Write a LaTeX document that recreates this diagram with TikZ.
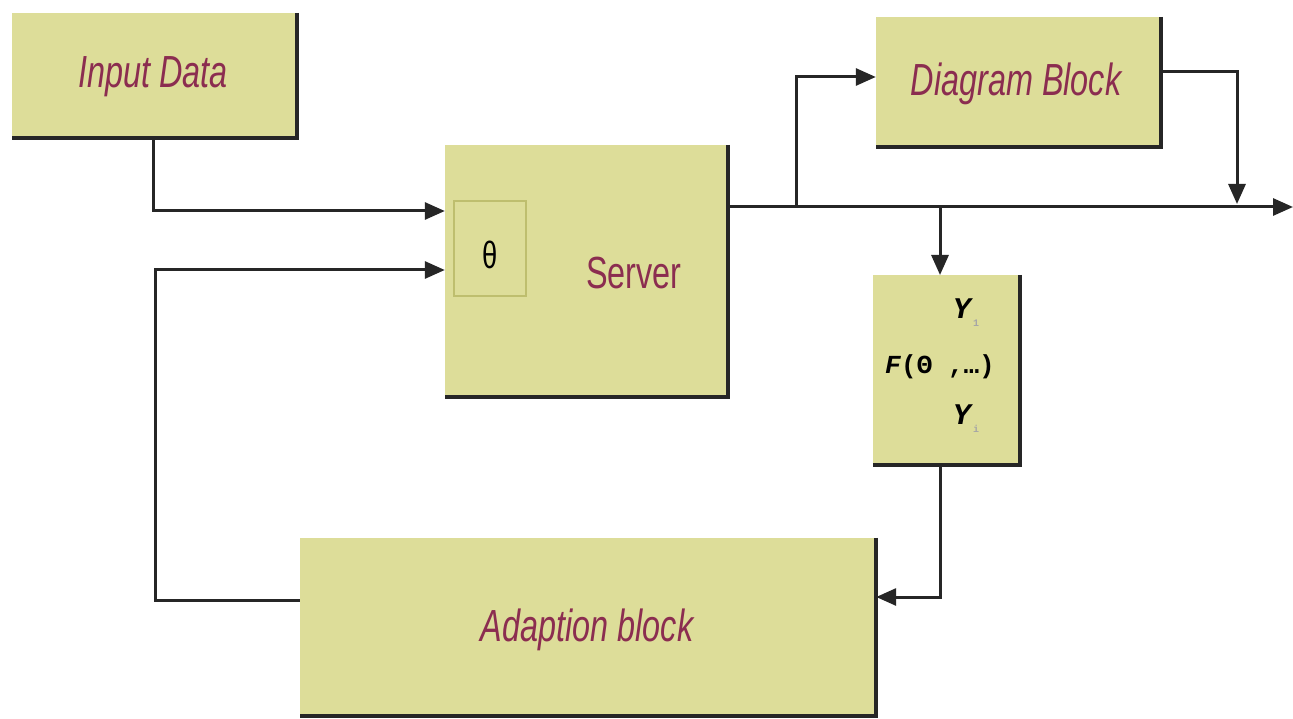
\documentclass[tikz,border=0pt]{standalone}
\usepackage{fontspec}
\setmainfont{Liberation Sans}
\newfontfamily\labfont[FakeStretch=0.72]{Liberation Sans}
\newfontfamily\monofont{Liberation Mono}
\usetikzlibrary{arrows.meta}
\definecolor{boxfill}{RGB}{221,221,153}
\definecolor{labcol}{RGB}{139,45,80}
\definecolor{thborder}{RGB}{190,190,110}
\tikzset{
  blk/.style={fill=boxfill, draw=none, inner sep=0pt, minimum width=#1},
  lab/.style={text=labcol, font=\labfont\itshape\fontsize{45}{48}\selectfont},
  shadowline/.style={line width=3.5pt, black!85},
  conn/.style={line width=3pt, black!85, line join=miter},
  tip/.style={-{Triangle[length=20pt,width=17pt]}}
}
\begin{document}
\begin{tikzpicture}[x=1pt,y=-1pt]
\useasboundingbox (0,0) rectangle (1293,719);
\fill[white] (0,0) rectangle (1293,719);
% blocks
\node[blk=285pt, minimum height=125pt] (in) at (154.5,75.5) {};
\node[blk=283pt, minimum height=252pt] (srv) at (586.5,271) {};
\node[blk=285pt, minimum height=130pt] (dg) at (1018.5,82) {};
\node[blk=147pt, minimum height=190pt] (F) at (946.5,370) {};
\node[blk=576pt, minimum height=178pt] (ad) at (588,627) {};
\node[blk=72pt, minimum height=95pt, draw=thborder, line width=1.5pt] (th) at (490,248.5) {};
% shadows
\foreach \b in {in,srv,dg,F,ad}{
  \draw[shadowline] (\b.north east) -- (\b.south east) -- (\b.south west);
}
% labels
\node[lab] (tin) at (153,77) {Input Data};
\node[lab] (tdg) at (1016,84) {Diagram Block};
\node[lab] (tad) at (587,630) {Adaption block};
\node[text=labcol, font=\labfont\fontsize{45}{48}\selectfont] (tsrv) at (634,273) {Server};
\node[font=\labfont\fontsize{38}{40}\selectfont] (tth) at (490,255) {θ};
\node[font=\monofont\bfseries\fontsize{26}{28}\selectfont] (tf) at (940,367) {\textit{F}(Θ ,…)};
\node[font=\monofont\bfseries\fontsize{30}{30}\selectfont] (ty1) at (966,313) {\textit{Y}\raisebox{-8pt}{\textcolor{black!35}{\fontsize{10}{10}\selectfont 1}}};
\node[font=\monofont\bfseries\fontsize{30}{30}\selectfont] (ty2) at (966,419) {\textit{Y}\raisebox{-8pt}{\textcolor{black!35}{\fontsize{10}{10}\selectfont i}}};
% coordinates
\coordinate (o) at ([yshift=64pt]srv.east);
\coordinate (oend) at (1293,207);
\coordinate (b1) at (796,207);
\coordinate (b2) at (940,207);
\coordinate (b3) at (1237,207);
\coordinate (inS) at (153,138);
\coordinate (srvIn1) at ([yshift=60pt]srv.west);
\coordinate (srvIn2) at ([yshift=1pt]srv.west);
\coordinate (dgIn) at ([yshift=5pt]dg.west);
\coordinate (dgOut) at ([yshift=10pt]dg.east);
\coordinate (adIn) at ([yshift=30pt]ad.east);
\coordinate (adOut) at ([yshift=27pt]ad.west);
\coordinate (Fbot) at (940,465);
\coordinate (Ftop) at (940,275);
\coordinate (fbL) at (155,270);
% connectors
\draw[conn,tip] (inS) |- (srvIn1);
\draw[conn,tip] (adOut) -| (fbL) -- (srvIn2);
\draw[conn,tip] (o) -- (oend);
\draw[conn,tip] (b1) |- (dgIn);
\draw[conn,tip] (dgOut) -| ([yshift=3pt]b3);
\draw[conn,tip] (b2) -- (Ftop);
\draw[conn,tip] (Fbot) |- (adIn);
\end{tikzpicture}
\end{document}
